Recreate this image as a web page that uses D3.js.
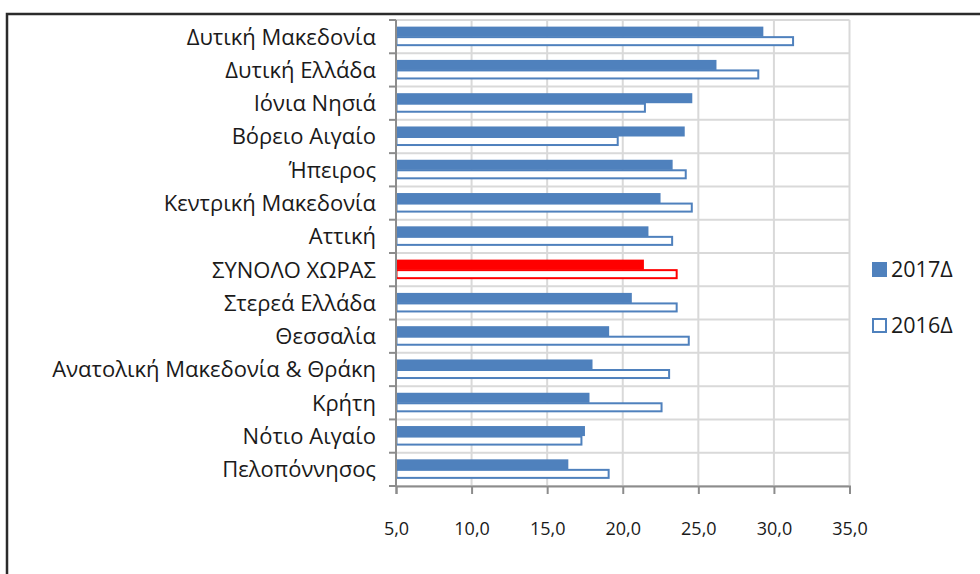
<!DOCTYPE html>
<html><head><meta charset="utf-8">
<script src="https://cdn.jsdelivr.net/npm/d3@7"></script>
<style>body{margin:0;background:#fff;} svg{display:block;}</style>
</head><body>
<svg id="chart" width="980" height="574"></svg>
<script>
const categories = ["Δυτική Μακεδονία","Δυτική Ελλάδα","Ιόνια Νησιά","Βόρειο Αιγαίο","Ήπειρος","Κεντρική Μακεδονία","Αττική","ΣΥΝΟΛΟ ΧΩΡΑΣ","Στερεά Ελλάδα","Θεσσαλία","Ανατολική Μακεδονία & Θράκη","Κρήτη","Νότιο Αιγαίο","Πελοπόννησος"];
const values2017 = [29.3,26.2,24.6,24.1,23.3,22.5,21.7,21.4,20.6,19.1,18.0,17.8,17.5,16.4];
const values2016 = [31.3,29.0,21.5,19.7,24.2,24.6,23.3,23.6,23.6,24.4,23.1,22.6,17.3,19.1];
const seriesNames = ["2017Δ","2016Δ"];
const tickValues = [5,10,15,20,25,30,35];
const highlight = "ΣΥΝΟΛΟ ΧΩΡΑΣ";

const svg = d3.select("#chart");
const font = "'Open Sans', Lato, sans-serif";
const pLeft = 396, pRight = 849.5, pTop = 20, pBottom = 486;
const blue = "#4f81bd", red = "#ff0000";

// frame
svg.append("rect").attr("x",7).attr("y",14).attr("width",990).attr("height",600)
  .attr("fill","none").attr("stroke","#2b2b2b").attr("stroke-width",2.5);

const x = d3.scaleLinear().domain([5,35]).range([pLeft,pRight]);
const y = d3.scaleBand().domain(categories).range([pTop,pBottom]).padding(0);
const ys = d3.scaleBand().domain(["2017","2016"]).range([0,y.bandwidth()]).paddingInner(0).paddingOuter(0.66);

// grid
const g = svg.append("g");
g.selectAll("line.vg").data(tickValues).join("line")
  .attr("x1",d=>x(d)).attr("x2",d=>x(d)).attr("y1",pTop).attr("y2",pBottom)
  .attr("stroke","#d9d9d9").attr("stroke-width",2);
const bounds = categories.map(c=>y(c)).concat([pBottom]);
g.selectAll("line.hg").data(bounds).join("line")
  .attr("x1",pLeft).attr("x2",pRight).attr("y1",d=>d).attr("y2",d=>d)
  .attr("stroke","#d9d9d9").attr("stroke-width",2);

// bars
const bars = svg.append("g");
categories.forEach((c,i)=>{
  const col = c===highlight ? red : blue;
  bars.append("rect").attr("x",x(5)).attr("y",y(c)+ys("2017"))
    .attr("width",x(values2017[i])-x(5)).attr("height",ys.bandwidth())
    .attr("fill",col);
  bars.append("rect").attr("x",x(5)+0.5).attr("y",y(c)+ys("2016")+0.5)
    .attr("width",x(values2016[i])-x(5)-1).attr("height",ys.bandwidth()-2)
    .attr("fill","#fff").attr("stroke",col).attr("stroke-width",2);
});

// axes
const xAxis = svg.append("g").attr("transform",`translate(0,${pBottom})`)
  .call(d3.axisBottom(x).tickValues(tickValues).tickSize(8).tickPadding(28)
    .tickFormat(d=>d3.format(".1f")(d).replace(".",",")));
xAxis.select(".domain").attr("stroke","#8c8c8c").attr("stroke-width",2);
xAxis.selectAll(".tick line").attr("stroke","#8c8c8c").attr("stroke-width",2);
xAxis.selectAll("text").attr("font-family",font).attr("font-size",18).attr("fill","#1a1a1a");

const yAxisG = svg.append("g");
yAxisG.append("line").attr("x1",pLeft).attr("x2",pLeft).attr("y1",pTop).attr("y2",pBottom)
  .attr("stroke","#8c8c8c").attr("stroke-width",2);
yAxisG.selectAll("line.t").data(bounds).join("line")
  .attr("x1",pLeft-7).attr("x2",pLeft).attr("y1",d=>d).attr("y2",d=>d)
  .attr("stroke","#8c8c8c").attr("stroke-width",2);
yAxisG.selectAll("text").data(categories).join("text")
  .attr("x",376).attr("y",d=>y(d)+y.bandwidth()/2).attr("dy","0.36em")
  .attr("text-anchor","end").attr("font-family",font).attr("font-size",22)
  .attr("fill","#1a1a1a").text(d=>d);

// legend
const leg = svg.append("g");
leg.append("rect").attr("x",872).attr("y",262).attr("width",15).attr("height",15).attr("fill",blue);
leg.append("rect").attr("x",873).attr("y",319).attr("width",13).attr("height",13).attr("fill","#fff").attr("stroke",blue).attr("stroke-width",2);
leg.selectAll("text").data(seriesNames).join("text")
  .attr("x",891).attr("y",(d,i)=>i===0?277:333)
  .attr("font-family",font).attr("font-size",21.5).attr("fill","#1a1a1a").text(d=>d);
</script>
</body></html>
